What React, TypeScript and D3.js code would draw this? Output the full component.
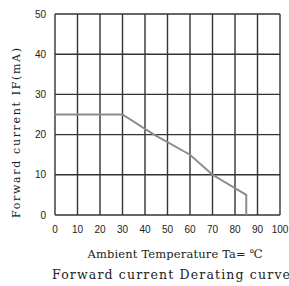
import React from "react";
import * as d3 from "d3";

const xTicks = [0, 10, 20, 30, 40, 50, 60, 70, 80, 90, 100];
const yTicks = [0, 10, 20, 30, 40, 50];
// derating curve: [temperature, current]
const curveTemp = [0, 30, 44, 60, 70, 85, 85];
const curveCurrent = [25, 25, 20, 15, 10, 5, 0];

export default function App() {
  const width = 289;
  const height = 286;
  const margin = { top: 14, right: 9, bottom: 71, left: 55 };
  const w = width - margin.left - margin.right;
  const h = height - margin.top - margin.bottom;

  const x = d3.scaleLinear().domain([0, 100]).range([0, w]);
  const y = d3.scaleLinear().domain([0, 50]).range([h, 0]);

  const line = d3.line<number>()
    .x((d, i) => x(curveTemp[i]))
    .y((d) => y(d));

  const serif = "'DejaVu Serif', 'Liberation Serif', serif";
  const sans = "'Liberation Sans', Arial, sans-serif";

  return (
    <svg width={width} height={height} style={{ position: "absolute", left: 0, top: 0 }}>
      <rect width={width} height={height} fill="#fff" />
      <g transform={`translate(${margin.left},${margin.top})`}>
        {xTicks.map((t) => (
          <line key={"gx" + t} x1={x(t)} x2={x(t)} y1={0} y2={h} stroke="#333" strokeWidth={1.4} />
        ))}
        {yTicks.map((t) => (
          <line key={"gy" + t} x1={0} x2={w} y1={y(t)} y2={y(t)} stroke="#333" strokeWidth={1.4} />
        ))}
        <path d={line(curveCurrent) || ""} fill="none" stroke="#8c8c8c" strokeWidth={2} />
        {yTicks.map((t) => (
          <text key={"ty" + t} x={-9} y={y(t)} dy="0.35em" textAnchor="end"
            fontFamily={sans} fontSize={10} fill="#222">{t}</text>
        ))}
        {xTicks.map((t) => (
          <text key={"tx" + t} x={x(t)} y={h + 18} textAnchor="middle"
            fontFamily={sans} fontSize={10} fill="#222">{t}</text>
        ))}
      </g>
      <text transform="translate(20,133) rotate(-90)" textAnchor="middle"
        fontFamily={serif} fontSize={11} fill="#222" textLength={170} lengthAdjust="spacing">
        Forward current IF(mA)
      </text>
      <text x={175} y={258} textAnchor="middle" fontFamily={serif} fontSize={11.5} fill="#222"
        textLength={175} lengthAdjust="spacing">
        Ambient Temperature Ta= ℃
      </text>
      <text x={52} y={279} fontFamily={serif} fontSize={12.5} fill="#222"
        textLength={238} lengthAdjust="spacing">
        Forward current Derating curve
      </text>
    </svg>
  );
}
